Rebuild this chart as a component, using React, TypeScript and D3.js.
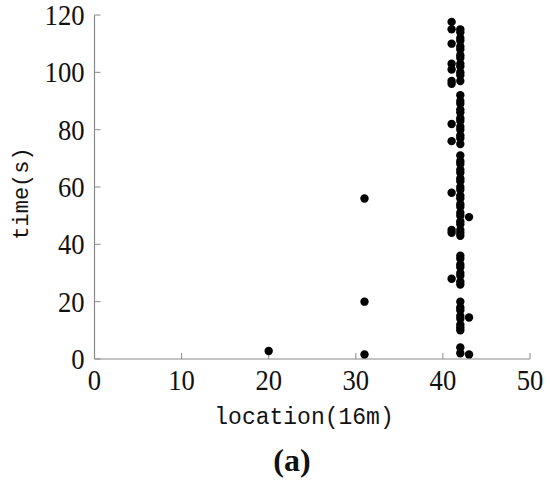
import React from "react";
import * as d3 from "d3";

// times (s) of detections, grouped by location index
const loc20Times = [2.8];
const loc31Times = [1.6, 20, 56];
const loc41Times = [117.6, 115, 110, 103, 101, 97, 96, 82, 76, 58, 45, 44, 28];
const loc42Times = [
  115, 114, 112, 111, 109, 108, 106, 105, 103, 102, 100, 99, 97,
  92, 90, 89, 87, 86, 84, 83, 81, 80, 78, 77, 75,
  71, 69, 68, 66, 65, 63, 62, 60, 59, 57, 56, 54, 53, 51, 50, 48, 47, 45, 44, 43,
  36, 35, 33, 32, 30, 29, 27, 26,
  20, 18, 17, 15, 14, 12, 11, 10,
  4, 2,
];
const loc43Times = [49.5, 14.5, 1.6];

const xTicks = [0, 10, 20, 30, 40, 50];
const yTicks = [0, 20, 40, 60, 80, 100, 120];

export default function App() {
  const width = 550;
  const height = 484;
  const margin = {top: 15, right: 20, bottom: 125, left: 94.5};

  const x = d3.scaleLinear().domain([0, 50]).range([margin.left, width - margin.right]);
  const y = d3.scaleLinear().domain([0, 120]).range([height - margin.bottom, margin.top]);

  const points: [number, number][] = [
    ...loc20Times.map(t => [20, t] as [number, number]),
    ...loc31Times.map(t => [31, t] as [number, number]),
    ...loc41Times.map(t => [41, t] as [number, number]),
    ...loc42Times.map(t => [42, t] as [number, number]),
    ...loc43Times.map(t => [43, t] as [number, number]),
  ];

  const axisColor = "#8a8a8a";
  const y0 = y(0);
  const x0 = x(0);
  const tickFont = "'Liberation Serif', 'Times New Roman', serif";
  const monoFont = "'Liberation Mono', 'DejaVu Sans Mono', monospace";

  return (
    <svg width={width} height={height} style={{position: "absolute", left: 0, top: 0, background: "#fff"}}>
      {/* axes lines */}
      <line x1={x0} x2={x(50)} y1={y0} y2={y0} stroke={axisColor} strokeWidth={1.2}/>
      <line x1={x0} x2={x0} y1={y(0)} y2={y(120)} stroke={axisColor} strokeWidth={1.2}/>

      {xTicks.map(t => (
        <g key={"x" + t}>
          <line x1={x(t)} x2={x(t)} y1={y0} y2={y0 - 6} stroke={axisColor} strokeWidth={1}/>
          <text transform={`translate(${x(t)},${y0 + 31}) scale(0.95,1.05)`} textAnchor="middle" fontFamily={tickFont} fontSize={28} fill="#111">{t}</text>
        </g>
      ))}
      {yTicks.map(t => (
        <g key={"y" + t}>
          <line x1={x0} x2={x0 + 6} y1={y(t)} y2={y(t)} stroke={axisColor} strokeWidth={1}/>
          <text transform={`translate(${x0 - 10},${y(t) + 10}) scale(0.95,1.05)`} textAnchor="end" fontFamily={tickFont} fontSize={28} fill="#111">{t}</text>
        </g>
      ))}

      {points.map((p, i) => (
        <circle key={i} cx={x(p[0])} cy={y(p[1])} r={4.2} fill="#000"/>
      ))}

      <text x={304} y={424} textAnchor="middle" fontFamily={monoFont} fontSize={23} fill="#111">location(16m)</text>
      <text transform={`translate(28, 193.5) rotate(-90)`} textAnchor="middle" fontFamily={monoFont} fontSize={22} fill="#111">time(s)</text>
      <text x={292} y={471} textAnchor="middle" fontFamily="'Liberation Serif', serif" fontWeight="bold" fontSize={32} fill="#111">(a)</text>
    </svg>
  );
}
